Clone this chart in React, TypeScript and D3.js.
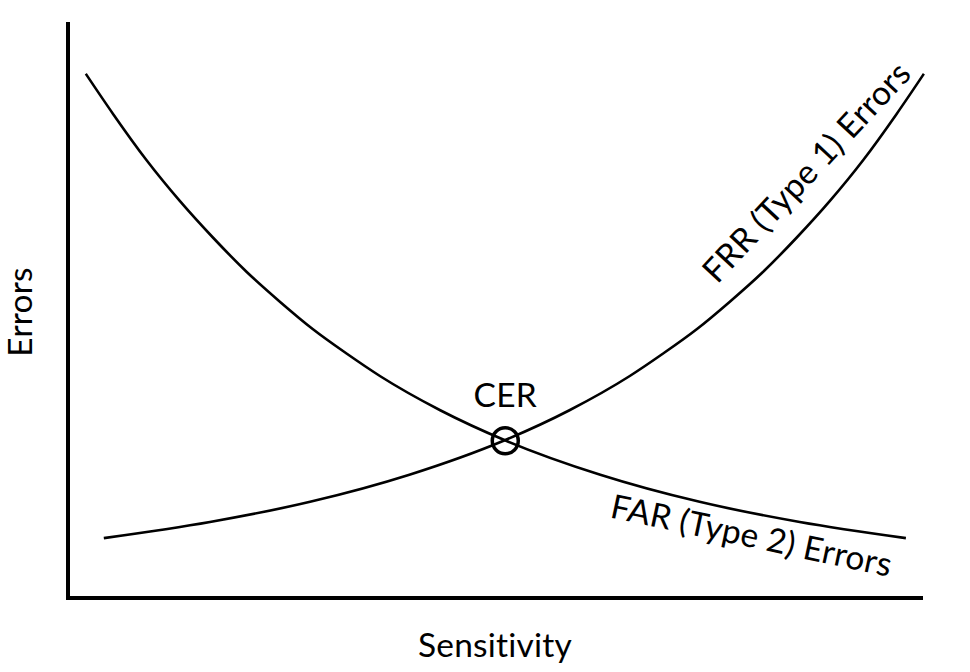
import React from "react";
import * as d3 from "d3";

// Abstract units: sensitivity 0..100, errors 0..100
const farX = [2.2, 5.4, 9.3, 13.2, 17.1, 21.0, 24.9, 28.7, 32.7, 36.6, 43.6, 51.3, 62.3, 73.9, 85.6, 98.0];
const farY = [91.0, 84.0, 76.0, 68.9, 62.5, 56.6, 51.4, 46.7, 42.4, 38.5, 32.6, 27.3, 21.4, 16.7, 13.2, 10.4];
const frrX = [4.3, 16.7, 28.4, 40.0, 51.0, 58.7, 65.7, 69.6, 73.6, 77.4, 81.3, 85.2, 89.1, 93.0, 96.9, 100.1];
const frrY = [10.4, 13.2, 16.7, 21.4, 27.3, 32.6, 38.5, 42.4, 46.7, 51.4, 56.6, 62.5, 68.9, 76.0, 84.0, 91.0];
const cerPoint = [51.2, 27.3];

const labels = {
  x: "Sensitivity",
  y: "Errors",
  cer: "CER",
  frr: "FRR (Type 1) Errors",
  far: "FAR (Type 2) Errors",
};

const W = 970;
const H = 672;
const FONT = "Lato, 'Open Sans', sans-serif";
const FS = 33.5;

export default function App() {
  const x = d3.scaleLinear().domain([0, 100]).range([67, 923]);
  const y = d3.scaleLinear().domain([0, 100]).range([598, 22]);

  const line = d3
    .line<[number, number]>()
    .x((d) => x(d[0]))
    .y((d) => y(d[1]))
    .curve(d3.curveMonotoneX);

  const far = farX.map((v, i) => [v, farY[i]] as [number, number]);
  const frr = frrX.map((v, i) => [v, frrY[i]] as [number, number]);

  const x0 = x(0) + 1;
  const y0 = y(0);

  const textStyle: React.CSSProperties = {
    fontVariantLigatures: "none",
    fontFeatureSettings: "'liga' 0, 'clig' 0",
    letterSpacing: "0.2px",
  };

  return (
    <svg
      width={W}
      height={H}
      style={{ position: "absolute", left: 0, top: 0, background: "#fff" }}
      fontFamily={FONT}
    >
      <rect width={W} height={H} fill="#fff" />
      {/* axes */}
      <line x1={x0} y1={y(100)} x2={x0} y2={y0 + 2} stroke="#000" strokeWidth={4} />
      <line x1={x0} y1={y0} x2={x(100)} y2={y0} stroke="#000" strokeWidth={4} />

      {/* curves */}
      <path d={line(far) || ""} fill="none" stroke="#000" strokeWidth={2.6} />
      <path d={line(frr) || ""} fill="none" stroke="#000" strokeWidth={2.6} />

      {/* CER marker */}
      <circle cx={x(cerPoint[0])} cy={y(cerPoint[1])} r={13} fill="none" stroke="#000" strokeWidth={3.5} />
      <text x={x(cerPoint[0])} y={y(cerPoint[1]) - 34} textAnchor="middle" fontSize={FS} fill="#000" style={textStyle}>
        {labels.cer}
      </text>

      {/* curve labels */}
      <text transform="translate(815,180) rotate(-47)" textAnchor="middle" fontSize={FS} fill="#000" style={textStyle}>
        {labels.frr}
      </text>
      <text transform="translate(749,547) rotate(12)" textAnchor="middle" fontSize={FS} fill="#000" style={textStyle}>
        {labels.far}
      </text>

      {/* axis titles */}
      <text x={(x(0) + x(100)) / 2} y={657} textAnchor="middle" fontSize={FS} fill="#000" style={textStyle}>
        {labels.x}
      </text>
      <text transform="translate(32,312) rotate(-90)" textAnchor="middle" fontSize={FS} fill="#000" style={textStyle}>
        {labels.y}
      </text>
    </svg>
  );
}
